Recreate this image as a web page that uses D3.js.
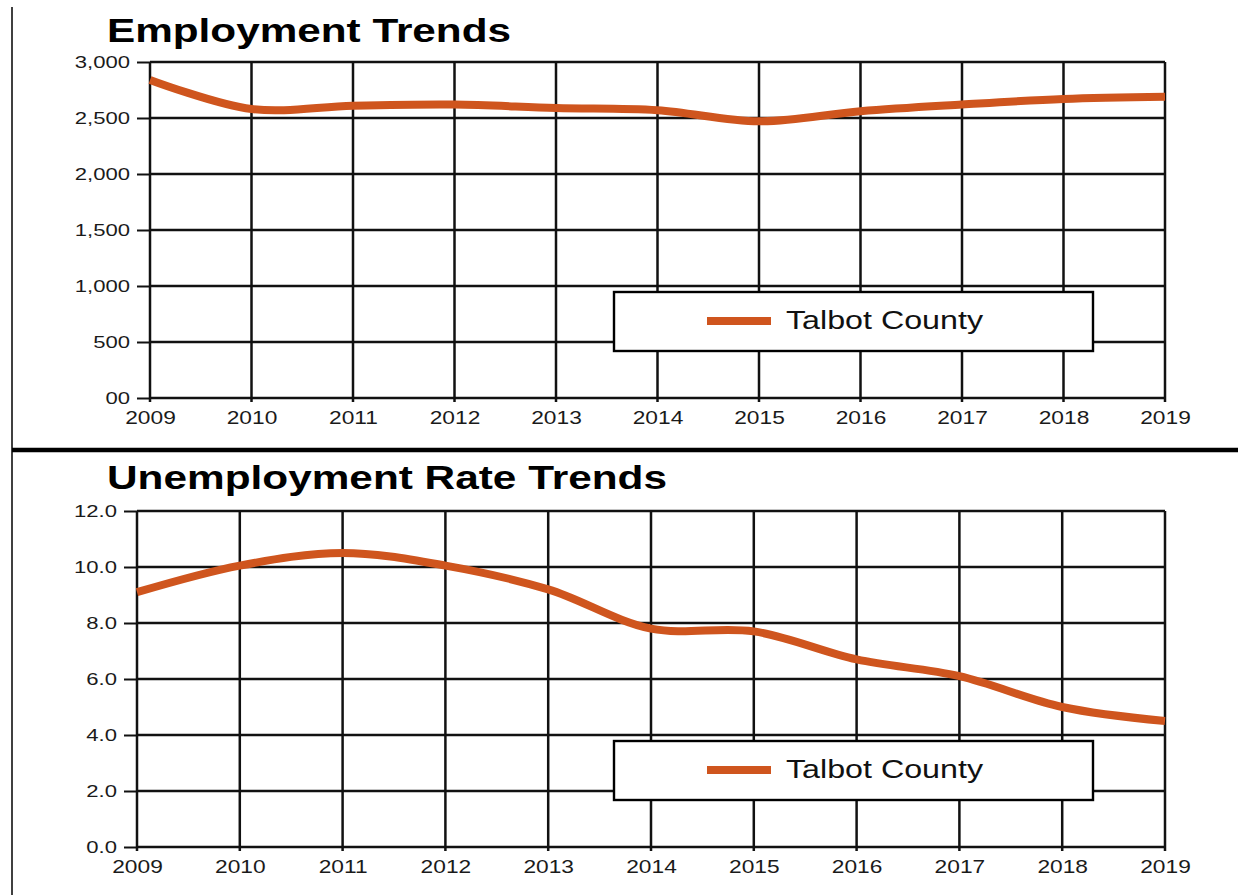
<!DOCTYPE html>
<html>
<head>
<meta charset="utf-8">
<script src="https://cdn.jsdelivr.net/npm/d3@7"></script>
<style>
  body { margin: 0; background: #fff; }
  text { font-family: "Liberation Sans", Arial, sans-serif; }
</style>
</head>
<body>
<div id="chart-container"></div>
<script>
// data
const years = [2009, 2010, 2011, 2012, 2013, 2014, 2015, 2016, 2017, 2018, 2019];
const employment = [2840, 2580, 2610, 2620, 2590, 2570, 2470, 2560, 2620, 2670, 2690];
const unemploymentRate = [9.1, 10.05, 10.5, 10.05, 9.2, 7.8, 7.7, 6.7, 6.1, 5.0, 4.5];

const employmentTicks = [0, 500, 1000, 1500, 2000, 2500, 3000];
const employmentTickLabels = ["00", "500", "1,000", "1,500", "2,000", "2,500", "3,000"];
const rateTicks = [0, 2, 4, 6, 8, 10, 12];
const rateTickLabels = ["0.0", "2.0", "4.0", "6.0", "8.0", "10.0", "12.0"];

const seriesName = "Talbot County";
const lineColor = "#cf551e";
const stretch = 1.3; // the picture is squashed wide, text too

var svg = d3.select("#chart-container").append("svg")
    .attr("width", 1238)
    .attr("height", 895);

// frame: left rule and separator
svg.append("line")
    .attr("x1", 12).attr("x2", 12).attr("y1", 7).attr("y2", 895)
    .attr("stroke", "#000").attr("stroke-width", 1.5);
svg.append("line")
    .attr("x1", 12).attr("x2", 1238).attr("y1", 450).attr("y2", 450)
    .attr("stroke", "#000").attr("stroke-width", 4.5);

function drawPanel(opts){
    var g = svg.append("g");

    var xScale = d3.scaleLinear()
        .domain([years[0], years[years.length - 1]])
        .range([opts.left, opts.right]);
    var yScale = d3.scaleLinear()
        .domain([opts.ticks[0], opts.ticks[opts.ticks.length - 1]])
        .range([opts.bottom, opts.top]);

    // title
    g.append("text")
        .attr("x", 107).attr("y", opts.titleY)
        .attr("font-size", 33).attr("font-weight", "bold")
        .attr("textLength", opts.titleWidth)
        .attr("lengthAdjust", "spacingAndGlyphs")
        .text(opts.title);

    // grid
    g.selectAll(".hgrid").data(opts.ticks).enter().append("line")
        .attr("x1", opts.left).attr("x2", opts.right)
        .attr("y1", d => yScale(d)).attr("y2", d => yScale(d))
        .attr("stroke", "#111").attr("stroke-width", 2.5);
    g.selectAll(".vgrid").data(years).enter().append("line")
        .attr("x1", d => xScale(d)).attr("x2", d => xScale(d))
        .attr("y1", opts.top).attr("y2", opts.bottom + 4)
        .attr("stroke", "#111").attr("stroke-width", 2.5);

    // y axis
    var yAxis = g.append("g")
        .attr("transform", `translate(${opts.left}, 0)`)
        .call(d3.axisLeft(yScale)
            .tickValues(opts.ticks)
            .tickFormat((d, i) => opts.tickLabels[i])
            .tickSize(13).tickPadding(7));
    yAxis.select(".domain").remove();
    yAxis.selectAll(".tick line").attr("stroke", "#111").attr("stroke-width", 2);
    yAxis.selectAll("text")
        .attr("font-size", 17).attr("fill", "#1a1a1a")
        .attr("font-family", "Liberation Sans, Arial, sans-serif")
        .attr("x", -20 / stretch)
        .attr("transform", `scale(${stretch},1)`);

    // x axis
    var xAxis = g.append("g")
        .attr("transform", `translate(0, ${opts.bottom})`)
        .call(d3.axisBottom(xScale)
            .tickValues(years)
            .tickFormat(d3.format("d"))
            .tickSize(0).tickPadding(14));
    xAxis.select(".domain").remove();
    xAxis.selectAll("text")
        .attr("font-size", 17.5).attr("fill", "#1a1a1a")
        .attr("font-family", "Liberation Sans, Arial, sans-serif")
        .attr("transform", `scale(${stretch},1)`);

    // series line
    var line = d3.line()
        .x((d, i) => xScale(years[i]))
        .y(d => yScale(d))
        .curve(d3.curveCatmullRom.alpha(0.5));
    g.append("path")
        .datum(opts.values)
        .attr("fill", "none")
        .attr("stroke", lineColor)
        .attr("stroke-width", 8)
        .attr("d", line);

    // legend
    var lg = g.append("g");
    lg.append("rect")
        .attr("x", 614).attr("y", opts.legendY)
        .attr("width", 479).attr("height", 59)
        .attr("fill", "#fff").attr("stroke", "#000").attr("stroke-width", 2.4);
    lg.append("line")
        .attr("x1", 707).attr("x2", 771)
        .attr("y1", opts.legendY + 29).attr("y2", opts.legendY + 29)
        .attr("stroke", lineColor).attr("stroke-width", 8);
    lg.append("text")
        .attr("x", 786).attr("y", opts.legendY + 37)
        .attr("font-size", 25).attr("fill", "#111")
        .attr("textLength", 197).attr("lengthAdjust", "spacingAndGlyphs")
        .text(seriesName);
}

drawPanel({
    title: "Employment Trends", titleY: 42, titleWidth: 404,
    left: 150, right: 1165, top: 62, bottom: 398,
    ticks: employmentTicks, tickLabels: employmentTickLabels,
    values: employment, legendY: 292
});

drawPanel({
    title: "Unemployment Rate Trends", titleY: 489, titleWidth: 560,
    left: 137, right: 1165, top: 511, bottom: 847,
    ticks: rateTicks, tickLabels: rateTickLabels,
    values: unemploymentRate, legendY: 741
});
</script>
</body>
</html>
